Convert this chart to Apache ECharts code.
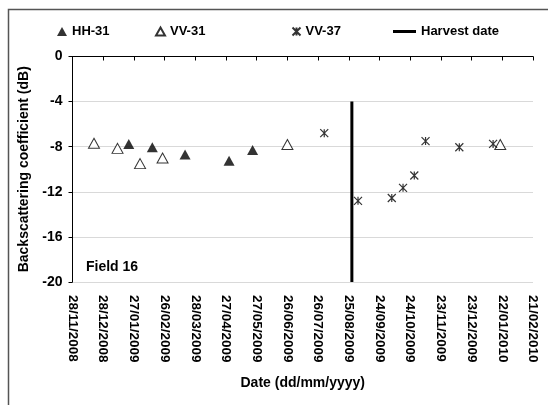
<!DOCTYPE html>
<html>
<head>
<meta charset="utf-8">
<script src="https://cdn.jsdelivr.net/npm/echarts@6/dist/echarts.min.js"></script>
<style>
  html, body { margin: 0; padding: 0; background: #fff; }
  #main { width: 548px; height: 405px; }
</style>
</head>
<body>
<div id="main"></div>
<script>
// start of the x axis, ticks every 30 days
var startDate = '2008-11-28';
var tickDays = 30;
var maxDays = 450;

var hh31Dates = ['2009-01-22', '2009-02-14', '2009-03-18', '2009-04-30', '2009-05-23'];
var hh31Values = [-7.75, -8.05, -8.7, -9.25, -8.3];

var vv31Dates = ['2008-12-19', '2009-01-11', '2009-02-02', '2009-02-24', '2009-06-26', '2010-01-20'];
var vv31Values = [-7.7, -8.15, -9.5, -9.0, -7.8, -7.8];

var vv37Dates = ['2009-08-01', '2009-09-03', '2009-10-06', '2009-10-17', '2009-10-28', '2009-11-08', '2009-12-11', '2010-01-13'];
var vv37Values = [-6.8, -12.8, -12.55, -11.65, -10.55, -7.5, -8.05, -7.75];

var harvestDate = '2009-08-28';
var harvestRange = [-4, -20];

var yTicks = [0, -4, -8, -12, -16, -20];

var font = 'Arial, "Liberation Sans", sans-serif';
var DAY = 86400000;

function dayOf(s) {
  var p = s.split('-');
  var b = startDate.split('-');
  return Math.round((Date.UTC(+p[0], p[1] - 1, +p[2]) - Date.UTC(+b[0], b[1] - 1, +b[2])) / DAY);
}
function pairs(dates, vals) {
  return dates.map(function (d, i) { return [dayOf(d), vals[i]]; });
}
function pad(n) { return n < 10 ? '0' + n : '' + n; }
function fmtDay(v) {
  var b = startDate.split('-');
  var d = new Date(Date.UTC(+b[0], b[1] - 1, +b[2]) + v * DAY);
  return pad(d.getUTCDate()) + '/' + pad(d.getUTCMonth() + 1) + '/' + d.getUTCFullYear();
}

var starPath = 'path://M0,0L10,10M10,0L0,10M5,0L5,10';
var chart = echarts.init(document.getElementById('main'));

var legendText = { fontFamily: font, fontWeight: 'bold', fontSize: 13, color: '#000' };

var option = {
  animation: false,
  backgroundColor: '#fff',
  textStyle: { fontFamily: font },
  legend: [
    { data: [{ name: 'HH-31', icon: 'triangle' }], left: 52, top: 20, itemWidth: 10, itemHeight: 9, textStyle: legendText },
    { data: [{ name: 'VV-31', icon: 'triangle' }], left: 150, top: 20, itemWidth: 9, itemHeight: 8, textStyle: legendText },
    { data: [{ name: 'VV-37', icon: starPath }], left: 285, top: 20, itemWidth: 8, itemHeight: 8, textStyle: legendText },
    { data: [{ name: 'Harvest date', icon: 'rect' }], left: 388, top: 20, itemWidth: 23, itemHeight: 3, textStyle: legendText }
  ],
  grid: { left: 72.5, right: 15, top: 56.5, bottom: 123 },
  xAxis: {
    type: 'value',
    min: 0,
    max: maxDays,
    interval: tickDays,
    name: 'Date (dd/mm/yyyy)',
    nameLocation: 'middle',
    nameGap: 94,
    nameTextStyle: { fontFamily: font, fontWeight: 'bold', fontSize: 14, color: '#000' },
    axisLine: { lineStyle: { color: '#000', width: 1 } },
    axisTick: { show: true, length: 4, lineStyle: { color: '#000' } },
    splitLine: { show: false },
    axisLabel: {
      rotate: -90,
      margin: 13,
      fontFamily: font,
      fontWeight: 'bold',
      fontSize: 13.5,
      color: '#000',
      formatter: fmtDay
    }
  },
  yAxis: {
    type: 'value',
    min: yTicks[yTicks.length - 1],
    max: yTicks[0],
    interval: 4,
    name: 'Backscattering coefficient (dB)',
    nameLocation: 'middle',
    nameGap: 38.5,
    nameTextStyle: { fontFamily: font, fontWeight: 'bold', fontSize: 14, color: '#000' },
    axisLine: { show: true, lineStyle: { color: '#000', width: 1 } },
    axisTick: { show: true, length: 4, lineStyle: { color: '#000' } },
    splitLine: { show: true, lineStyle: { color: '#d9d9d9', width: 1 } },
    axisLabel: { margin: 10, fontFamily: font, fontWeight: 'bold', fontSize: 14, color: '#000' }
  },
  series: [
    {
      name: 'HH-31', type: 'scatter', symbol: 'triangle', symbolSize: [11, 10],
      itemStyle: { color: '#000' },
      data: pairs(hh31Dates, hh31Values)
    },
    {
      name: 'VV-31', type: 'scatter', symbol: 'triangle', symbolSize: [11, 10],
      itemStyle: { color: '#fff', borderColor: '#000', borderWidth: 1 },
      data: pairs(vv31Dates, vv31Values)
    },
    {
      name: 'VV-37', type: 'scatter', symbol: starPath, symbolSize: [8, 8],
      itemStyle: { color: 'none', borderColor: '#000', borderWidth: 1.2 },
      data: pairs(vv37Dates, vv37Values)
    },
    {
      name: 'Harvest date', type: 'line', symbol: 'none',
      lineStyle: { color: '#000', width: 3 },
      itemStyle: { color: '#000' },
      data: harvestRange.map(function (v) { return [dayOf(harvestDate), v]; })
    }
  ],
  graphic: [
    {
      type: 'rect', left: 6, top: 7, silent: true,
      shape: { width: 600, height: 500 },
      style: { fill: 'none', stroke: '#555', lineWidth: 1.5 }
    },
    {
      type: 'text', left: 86, top: 260,
      style: { text: 'Field 16', fontFamily: font, fontWeight: 'bold', fontSize: 14, fill: '#000' }
    }
  ]
};

chart.setOption(option);
</script>
</body>
</html>
